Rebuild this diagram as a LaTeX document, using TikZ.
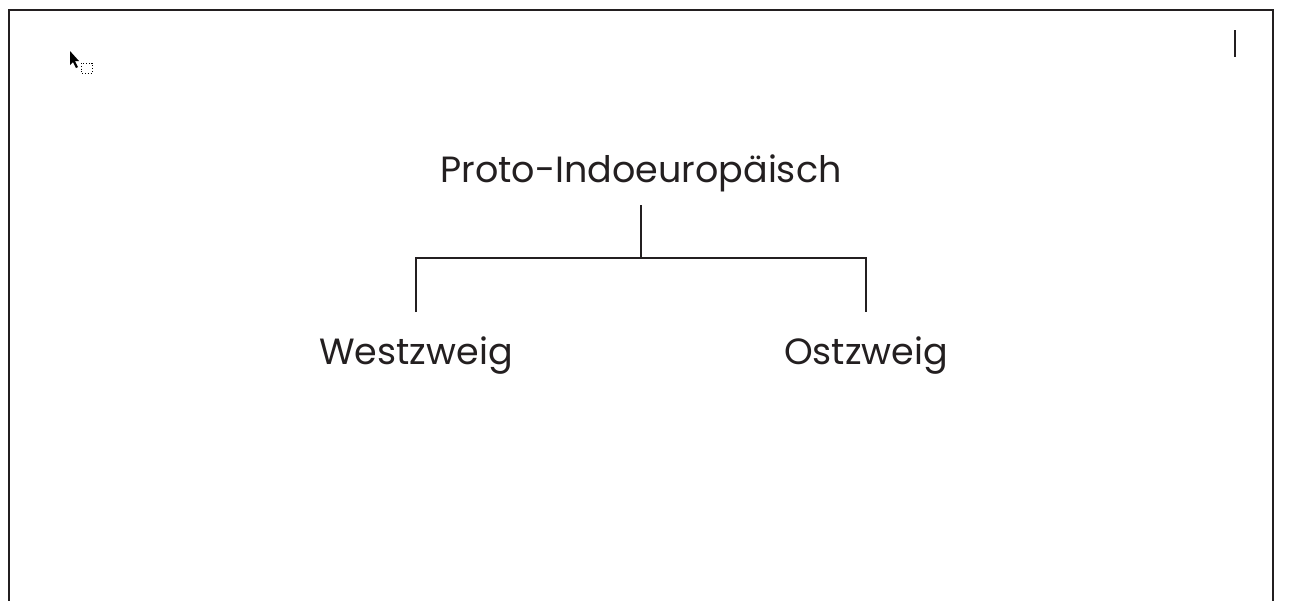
\documentclass[tikz,border=0pt]{standalone}
\usepackage{fontspec}
\setmainfont{Poppins}
\definecolor{inkgray}{HTML}{231F20}
\tikzset{
  label text/.style = {text = inkgray, font = \fontsize{36.5}{44}\selectfont, inner sep = 0pt, anchor = base},
  branch/.style = {draw = inkgray, line width = 1.6pt}
}
\begin{document}
\begin{tikzpicture}[x = 1pt, y = -1pt]
\useasboundingbox (0,0) rectangle (1291,600);
\draw [draw = inkgray, line width = 2pt] (9,601) -- (9,10) -- (1273,10) -- (1273,601);
% mouse pointer and drag box
\fill [black] (70,51) -- (70,65) -- (73,62) -- (76,68) -- (78,67) -- (75,61) -- (79,61) -- cycle;
\draw [black, line width = 0.8pt, dotted] (81,63) rectangle (92,73);
% text cursor
\draw [inkgray, line width = 2.2pt] (1235,30) -- (1235,57);
% tree
\node [label text] (root) at (641,182) {Proto-Indoeuropäisch};
\node [label text] (west) at (416,364) {Westzweig};
\node [label text] (east) at (866,364) {Ostzweig};
\coordinate (rootfoot) at (641,205);
\coordinate (split) at (641,258);
\coordinate (westtop) at (416,312);
\coordinate (easttop) at (866,312);
\draw [branch] (rootfoot) -- (split);
\draw [branch] (westtop) |- (split) -| (easttop);
\end{tikzpicture}
\end{document}
